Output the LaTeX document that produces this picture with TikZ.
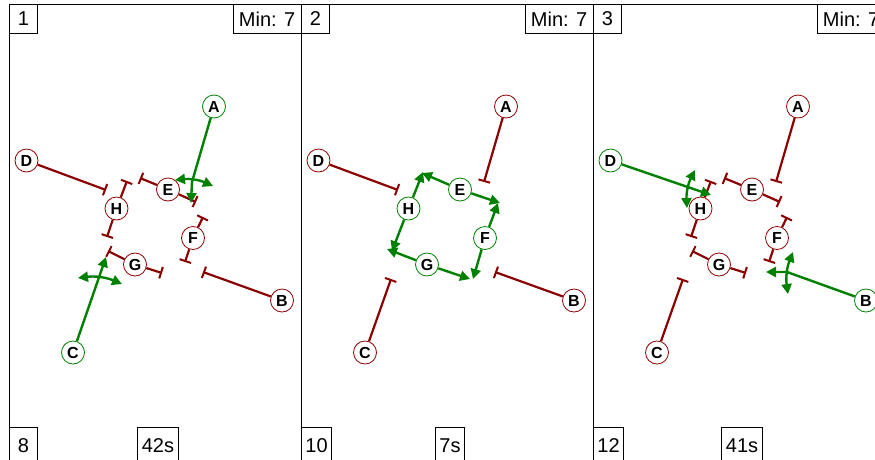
\documentclass[tikz,border=0pt]{standalone}
\usepackage{fontspec}
\setmainfont{Liberation Sans}
\usetikzlibrary{arrows.meta}
\definecolor{stopred}{RGB}{139,0,0}
\definecolor{gogreen}{RGB}{0,128,0}
\tikzset{
  frameline/.style={draw=black, line width=0.8pt},
  junc/.style={circle, draw=#1, fill=white, line width=0.8pt, minimum size=23pt,
    inner sep=0pt, font=\fontsize{16}{16}\selectfont\bfseries},
  stop/.style={draw=stopred, line width=2.2pt, line cap=butt,
    -{Bar[width=12pt, line width=2pt]}},
  go/.style={draw=gogreen, line width=2.4pt, line join=round,
    -{Triangle[length=10pt, width=10pt]}},
  turn/.style={draw=gogreen, line width=2.4pt,
    {Triangle[length=10pt, width=10pt]}-{Triangle[length=10pt, width=10pt]}},
  tag/.style={draw, fill=white, line width=0.8pt, font=\fontsize{20}{20}\selectfont,
    minimum height=29pt, inner xsep=4pt, inner ysep=0pt},
  numtag/.style={tag, minimum width=28pt},
  mintag/.style={tag, minimum width=68pt},
}
% the eight junction nodes, one colour each (A..H)
\newcommand\junctionset[8]{%
  \node[junc=#1] (A) at (214,106.5) {A};
  \node[junc=#2] (B) at (282,300.5) {B};
  \node[junc=#3] (C) at (73,352.5) {C};
  \node[junc=#4] (D) at (26.5,160.5) {D};
  \node[junc=#5] (E) at (168,189.5) {E};
  \node[junc=#6] (F) at (193,238) {F};
  \node[junc=#7] (G) at (135,264.5) {G};
  \node[junc=#8] (H) at (116.5,208.5) {H};
  \coordinate (sA) at (192,182);
  \coordinate (sB) at (203,272);
  \coordinate (sC) at (99,279);
  \coordinate (sD) at (106,190);
}
% inner ring closed in both directions
\newcommand\ringbars{%
  \coordinate (e1) at (140,178); \coordinate (e2) at (196,202);
  \coordinate (h1) at (127,181); \coordinate (h2) at (107,237);
  \coordinate (f1) at (203,217); \coordinate (f2) at (185,262);
  \coordinate (g1) at (108,251); \coordinate (g2) at (162,273);
  \draw[stop] (E) -- (e1); \draw[stop] (E) -- (e2);
  \draw[stop] (H) -- (h1); \draw[stop] (H) -- (h2);
  \draw[stop] (F) -- (f1); \draw[stop] (F) -- (f2);
  \draw[stop] (G) -- (g1); \draw[stop] (G) -- (g2);
}
% panel frame and its four tags
\newcommand\paneltags[3]{%
  \draw[frameline] (9,4) rectangle (301.5,480);
  \node[numtag, anchor=north west] (tl) at (9,4) {#1};
  \node[mintag, anchor=north east] (tr) at (301.5,4) {Min: 7};
  \node[numtag, anchor=north west, minimum height=36pt] (bl) at (9,427) {#2};
  \node[tag, anchor=north, minimum height=36pt] (bc) at (158,427) {#3};
}
\begin{document}
\begin{tikzpicture}[x=1pt, y=-1pt]
\useasboundingbox (0,0) rectangle (875,459);

% ---------- phase 1: A and C go ----------
\begin{scope}[name prefix=p1-]
  \draw[frameline] (9,4) rectangle (301.5,480);
  \junctionset{gogreen}{stopred}{gogreen}{stopred}{stopred}{stopred}{stopred}{stopred}
  \ringbars
  \draw[stop] (D) -- (sD);
  \draw[stop] (B) -- (sB);
  \coordinate (tA) at (191,203);
  \coordinate (lA) at (175,180);
  \coordinate (rA) at (213,186);
  \draw[go] (A) -- (sA) -- (tA);
  \draw[turn] (lA) to[bend left=15] (rA);
  \coordinate (tC) at (106,257);
  \coordinate (lC) at (78,278);
  \coordinate (rC) at (122,284);
  \draw[go] (C) -- (tC);
  \draw[turn] (lC) to[bend left=15] (rC);
  \paneltags{1}{8}{42s}
\end{scope}

% ---------- phase 2: inner ring goes ----------
\begin{scope}[xshift=292pt, name prefix=p2-]
  \draw[frameline] (9,4) rectangle (301.5,480);
  \junctionset{stopred}{stopred}{stopred}{stopred}{gogreen}{gogreen}{gogreen}{gogreen}
  \draw[stop] (A) -- (sA);
  \draw[stop] (B) -- (sB);
  \draw[stop] (C) -- (sC);
  \draw[stop] (D) -- (sD);
  \coordinate (e1) at (130,173); \coordinate (e2) at (208,203);
  \coordinate (h1) at (131,172); \coordinate (h2) at (100,251);
  \coordinate (f1) at (206,203); \coordinate (f2) at (181,279);
  \coordinate (g1) at (95,249);  \coordinate (g2) at (178,279);
  \draw[go] (E) -- (e1); \draw[go] (E) -- (e2);
  \draw[go] (H) -- (h1); \draw[go] (H) -- (h2);
  \draw[go] (F) -- (f1); \draw[go] (F) -- (f2);
  \draw[go] (G) -- (g1); \draw[go] (G) -- (g2);
  \paneltags{2}{10}{7s}
\end{scope}

% ---------- phase 3: D and B go ----------
\begin{scope}[xshift=584pt, name prefix=p3-]
  \draw[frameline] (9,4) rectangle (301.5,480);
  \junctionset{stopred}{gogreen}{stopred}{gogreen}{stopred}{stopred}{stopred}{stopred}
  \ringbars
  \draw[stop] (A) -- (sA);
  \draw[stop] (C) -- (sC);
  \coordinate (tD) at (127,195);
  \coordinate (uD) at (111,170);
  \coordinate (dD) at (103,208);
  \draw[go] (D) -- (tD);
  \draw[turn] (uD) to[bend right=15] (dD);
  \coordinate (tB) at (182,272);
  \coordinate (uB) at (209,252);
  \coordinate (dB) at (204,294);
  \draw[go] (B) -- (sB) -- (tB);
  \draw[turn] (uB) to[bend right=15] (dB);
  \paneltags{3}{12}{41s}
\end{scope}
\end{tikzpicture}
\end{document}
